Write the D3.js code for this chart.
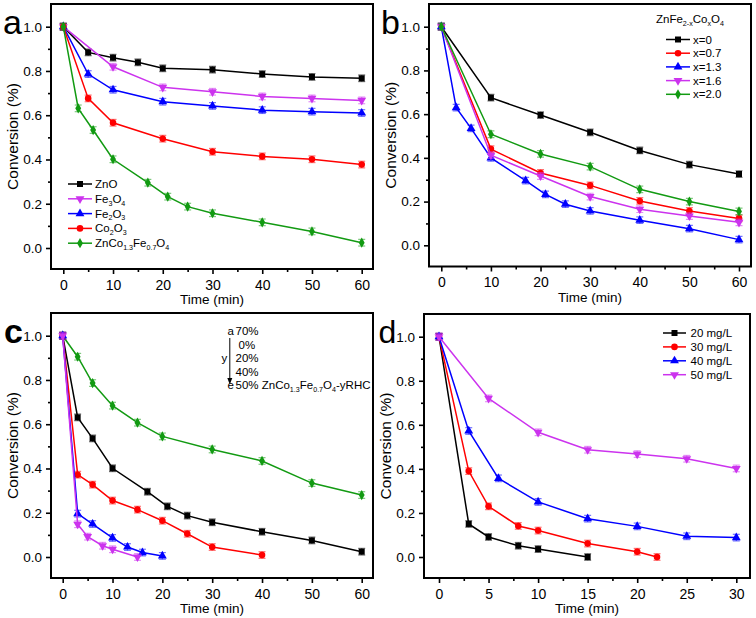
<!DOCTYPE html>
<html><head><meta charset="utf-8">
<script src="https://cdn.jsdelivr.net/npm/d3@7"></script>
<style>body{margin:0;background:#fff}svg{display:block}text{font-family:"Liberation Sans",Arial,sans-serif}</style>
</head><body><svg id="c" width="756" height="618"></svg>
<script>
// ---------- DATA ----------
const yTicks = [0.0, 0.2, 0.4, 0.6, 0.8, 1.0];
const yMinor = [0.1, 0.3, 0.5, 0.7, 0.9];
const xTicks60 = [0, 10, 20, 30, 40, 50, 60];
const xMinor60 = [5, 15, 25, 35, 45, 55];
const xTicks30 = [0, 5, 10, 15, 20, 25, 30];
const xMinor30 = [2.5, 7.5, 12.5, 17.5, 22.5, 27.5];
const errHalf = 0.015;

// panel a
const aZnO_t = [0, 5, 10, 15, 20, 30, 40, 50, 60];
const aZnO_v = [1.0, 0.884, 0.860, 0.839, 0.812, 0.806, 0.786, 0.773, 0.767];
const aFe3O4_t = [0, 10, 20, 30, 40, 50, 60];
const aFe3O4_v = [1.0, 0.819, 0.726, 0.706, 0.685, 0.676, 0.667];
const aFe2O3_t = [0, 5, 10, 20, 30, 40, 50, 60];
const aFe2O3_v = [1.0, 0.786, 0.715, 0.661, 0.642, 0.623, 0.616, 0.610];
const aCo2O3_t = [0, 5, 10, 20, 30, 40, 50, 60];
const aCo2O3_v = [1.0, 0.676, 0.566, 0.494, 0.435, 0.414, 0.401, 0.377];
const aZCF_t = [0, 3, 6, 10, 17, 21, 25, 30, 40, 50, 60];
const aZCF_v = [1.0, 0.631, 0.533, 0.401, 0.295, 0.232, 0.187, 0.157, 0.116, 0.075, 0.024];
const aLabels = ["ZnO", "Fe_{3}O_{4}", "Fe_{2}O_{3}", "Co_{2}O_{3}", "ZnCo_{1.3}Fe_{0.7}O_{4}"];

// panel b
const b0_t = [0, 10, 20, 30, 40, 50, 60];
const b0_v = [1.0, 0.675, 0.596, 0.517, 0.434, 0.369, 0.326];
const b07_t = [0, 10, 20, 30, 40, 50, 60];
const b07_v = [1.0, 0.440, 0.331, 0.274, 0.203, 0.157, 0.123];
const b13_t = [0, 3, 6, 10, 17, 21, 25, 30, 40, 50, 60];
const b13_v = [1.0, 0.630, 0.535, 0.400, 0.296, 0.233, 0.188, 0.157, 0.115, 0.076, 0.026];
const b16_t = [0, 10, 20, 30, 40, 50, 60];
const b16_v = [1.0, 0.412, 0.317, 0.223, 0.165, 0.134, 0.105];
const b20_t = [0, 10, 20, 30, 40, 50, 60];
const b20_v = [1.0, 0.508, 0.418, 0.360, 0.256, 0.200, 0.155];
const bLabels = ["x=0", "x=0.7", "x=1.3", "x=1.6", "x=2.0"];
const bTitle = "ZnFe_{2-x}Co_{x}O_{4}";

// panel c
const c70_t = [0, 3, 6, 10, 15, 20, 30, 40, 50, 60];
const c70_v = [1.0, 0.905, 0.786, 0.684, 0.607, 0.545, 0.486, 0.434, 0.334, 0.280];
const c0_t = [0, 3, 6, 10, 17, 21, 25, 30, 40, 50, 60];
const c0_v = [1.0, 0.631, 0.536, 0.401, 0.295, 0.229, 0.187, 0.157, 0.114, 0.075, 0.024];
const c20_t = [0, 3, 6, 10, 15, 20, 25, 30, 40];
const c20_v = [1.0, 0.372, 0.327, 0.255, 0.214, 0.164, 0.105, 0.045, 0.009];
const c40_t = [0, 3, 6, 10, 13, 16, 20];
const c40_v = [1.0, 0.196, 0.149, 0.086, 0.045, 0.020, 0.005];
const c50_t = [0, 3, 5, 8, 10, 15];
const c50_v = [1.0, 0.148, 0.092, 0.051, 0.035, 0.0];
const cLegend = [["a", "70%"], ["", "0%"], ["y", "20%"], ["", "40%"], ["e", "50% ZnCo_{1.3}Fe_{0.7}O_{4}-yRHC"]];

// panel d
const d20_t = [0, 3, 5, 8, 10, 15];
const d20_v = [1.0, 0.150, 0.091, 0.051, 0.036, 0.0];
const d30_t = [0, 3, 5, 8, 10, 15, 20, 22];
const d30_v = [1.0, 0.390, 0.230, 0.141, 0.120, 0.061, 0.024, 0.0];
const d40_t = [0, 3, 6, 10, 15, 20, 25, 30];
const d40_v = [1.0, 0.572, 0.357, 0.250, 0.174, 0.139, 0.094, 0.088];
const d50_t = [0, 5, 10, 15, 20, 25, 30];
const d50_v = [1.0, 0.720, 0.566, 0.487, 0.467, 0.446, 0.402];
const dLabels = ["20 mg/L", "30 mg/L", "40 mg/L", "50 mg/L"];

// ---------- STYLE ----------
const COL = {k: "#000000", r: "#ff0000", b: "#0000ff", m: "#cc33ee", g: "#129a12"};
const SYM = {sq: d3.symbolSquare, ci: d3.symbolCircle, up: d3.symbolTriangle, dn: d3.symbolTriangle, di: d3.symbolDiamond};
const LEG_FS = 11.5;

const svg = d3.select("#c");

function richText(sel, str, size) {
  const parts = [];
  const re = /_\{([^}]*)\}/g;
  let last = 0, m;
  while ((m = re.exec(str)) !== null) {
    if (m.index > last) parts.push({t: str.slice(last, m.index), sub: false});
    parts.push({t: m[1], sub: true});
    last = re.lastIndex;
  }
  if (last < str.length) parts.push({t: str.slice(last), sub: false});
  let prevSub = false;
  parts.forEach(p => {
    const ts = sel.append("tspan").text(p.t);
    if (p.sub) { ts.attr("font-size", size * 0.62); if (!prevSub) ts.attr("dy", size * 0.25); }
    else if (prevSub) ts.attr("dy", -size * 0.25);
    prevSub = p.sub;
  });
}

function drawMarker(g, kind, x, y, color) {
  const size = kind === "ci" ? 34 : kind === "sq" ? 36 : kind === "di" ? 30 : 34;
  g.append("path").attr("d", d3.symbol().type(SYM[kind]).size(size)())
    .attr("fill", color).attr("transform", `translate(${x},${y})` + (kind === "dn" ? " rotate(180)" : ""));
}

function panel(cfg) {
  const {fx0, fx1, fy0, fy1} = cfg.frame;
  const x = d3.scaleLinear().domain(cfg.xd).range(cfg.xr);
  const y = d3.scaleLinear().domain([0, 1]).range(cfg.yr);
  const g = svg.append("g");
  const clipId = "clip" + cfg.id;
  svg.append("clipPath").attr("id", clipId).append("rect")
    .attr("x", fx0).attr("y", fy0).attr("width", fx1 - fx0).attr("height", fy1 - fy0);

  const ax = g.append("g").attr("transform", `translate(0,${fy1})`)
    .call(d3.axisBottom(x).tickValues(cfg.xt).tickSize(5).tickPadding(6).tickFormat(d3.format("d")));
  const axm = g.append("g").attr("transform", `translate(0,${fy1})`)
    .call(d3.axisBottom(x).tickValues(cfg.xm).tickSize(3).tickFormat(""));
  const ay = g.append("g").attr("transform", `translate(${fx0},0)`)
    .call(d3.axisLeft(y).tickValues(yTicks).tickSize(5).tickPadding(4).tickFormat(d3.format(".1f")));
  const aym = g.append("g").attr("transform", `translate(${fx0},0)`)
    .call(d3.axisLeft(y).tickValues(yMinor).tickSize(3).tickFormat(""));
  [ax, axm, ay, aym].forEach(a => {
    a.select(".domain").remove();
    a.selectAll("line").attr("stroke", "#000").attr("stroke-width", 1.6);
    a.selectAll("text").attr("font-size", 14).attr("fill", "#000").attr("font-family", '"Liberation Sans",Arial,sans-serif');
  });
  ay.selectAll("text").attr("font-size", 13.5);

  const sg = g.append("g").attr("clip-path", `url(#${clipId})`);
  cfg.series.forEach(s => {
    const pts = s.t.map((t, i) => [t, s.v[i]]);
    sg.append("path").datum(pts)
      .attr("d", d3.line().x(d => x(d[0])).y(d => y(d[1])))
      .attr("fill", "none").attr("stroke", s.c).attr("stroke-width", 1.5);
    pts.forEach(d => {
      const px = x(d[0]);
      const e = sg.append("g").attr("stroke", s.c).attr("stroke-opacity", 0.55).attr("stroke-width", 1.2);
      e.append("line").attr("x1", px).attr("x2", px).attr("y1", y(d[1] - errHalf)).attr("y2", y(d[1] + errHalf));
      e.append("line").attr("x1", px - 3.5).attr("x2", px + 3.5).attr("y1", y(d[1] - errHalf)).attr("y2", y(d[1] - errHalf));
      e.append("line").attr("x1", px - 3.5).attr("x2", px + 3.5).attr("y1", y(d[1] + errHalf)).attr("y2", y(d[1] + errHalf));
    });
    pts.forEach(d => drawMarker(sg, s.sym, x(d[0]), y(d[1]), s.c));
  });

  g.append("rect").attr("x", fx0).attr("y", fy0).attr("width", fx1 - fx0).attr("height", fy1 - fy0)
    .attr("fill", "none").attr("stroke", "#000").attr("stroke-width", 2);

  g.append("text").attr("x", (fx0 + fx1) / 2).attr("y", fy1 + 35).attr("text-anchor", "middle")
    .attr("font-size", 13.5).text("Time (min)");
  g.append("text").attr("transform", `translate(${fx0 - 33},${(fy0 + fy1) / 2}) rotate(-90)`)
    .attr("text-anchor", "middle").attr("font-size", 15.5).text("Conversion (%)");
  g.append("text").attr("x", cfg.letter[0]).attr("y", cfg.letter[1]).attr("font-size", cfg.letterSize || 34)
    .attr("font-weight", cfg.letterBold ? "bold" : "normal").text(cfg.id);

  if (cfg.legend) {
    const L = cfg.legend;
    if (L.title) {
      const t = g.append("text").attr("x", L.titleX).attr("y", L.titleY).attr("font-size", LEG_FS);
      richText(t, L.title, LEG_FS);
    }
    cfg.series.forEach((s, i) => {
      const yy = L.y0 + i * L.dy;
      g.append("line").attr("x1", L.x0).attr("x2", L.x1).attr("y1", yy).attr("y2", yy)
        .attr("stroke", s.c).attr("stroke-width", 1.5);
      drawMarker(g, s.sym, (L.x0 + L.x1) / 2, yy, s.c);
      const t = g.append("text").attr("x", L.tx).attr("y", yy + 4).attr("font-size", LEG_FS);
      richText(t, L.labels[i], LEG_FS);
    });
  }
  return {g, x, y};
}

panel({
  id: "a", frame: {fx0: 51, fx1: 373, fy0: 4, fy1: 269},
  xd: [0, 60], xr: [63.3, 361.7], yr: [248, 26.7], xt: xTicks60, xm: xMinor60,
  letter: [3, 34],
  series: [
    {t: aZnO_t, v: aZnO_v, c: COL.k, sym: "sq"},
    {t: aFe3O4_t, v: aFe3O4_v, c: COL.m, sym: "dn"},
    {t: aFe2O3_t, v: aFe2O3_v, c: COL.b, sym: "up"},
    {t: aCo2O3_t, v: aCo2O3_v, c: COL.r, sym: "ci"},
    {t: aZCF_t, v: aZCF_v, c: COL.g, sym: "di"}
  ],
  legend: {x0: 68, x1: 92, tx: 95, y0: 184, dy: 14.8, labels: aLabels}
});

panel({
  id: "b", frame: {fx0: 429, fx1: 751, fy0: 4, fy1: 266.5},
  xd: [0, 60], xr: [441.3, 739], yr: [245.3, 26.7], xt: xTicks60, xm: xMinor60,
  letter: [381, 34],
  series: [
    {t: b0_t, v: b0_v, c: COL.k, sym: "sq"},
    {t: b07_t, v: b07_v, c: COL.r, sym: "ci"},
    {t: b13_t, v: b13_v, c: COL.b, sym: "up"},
    {t: b16_t, v: b16_v, c: COL.m, sym: "dn"},
    {t: b20_t, v: b20_v, c: COL.g, sym: "di"}
  ],
  legend: {title: bTitle, titleX: 656, titleY: 23, x0: 666, x1: 690, tx: 693, y0: 39.5, dy: 13.7, labels: bLabels}
});

const pc = panel({
  id: "c", frame: {fx0: 51, fx1: 373, fy0: 313, fy1: 578},
  xd: [0, 60], xr: [62.7, 361.7], yr: [557, 335.7], xt: xTicks60, xm: xMinor60,
  letter: [4, 343], letterBold: true,
  series: [
    {t: c70_t, v: c70_v, c: COL.g, sym: "di"},
    {t: c0_t, v: c0_v, c: COL.k, sym: "sq"},
    {t: c20_t, v: c20_v, c: COL.r, sym: "ci"},
    {t: c40_t, v: c40_v, c: COL.b, sym: "up"},
    {t: c50_t, v: c50_v, c: COL.m, sym: "dn"}
  ]
});
cLegend.forEach((r, i) => {
  const yy = 335 + i * 13.6;
  if (r[0]) pc.g.append("text").attr("x", r[0] === "y" ? 221.5 : 227.5).attr("y", yy).attr("font-size", LEG_FS).text(r[0]);
  const t = pc.g.append("text").attr("x", r[1] === "0%" ? 238.5 : 235.5).attr("y", yy).attr("font-size", LEG_FS);
  richText(t, r[1], LEG_FS);
});
pc.g.append("line").attr("x1", 229.8).attr("x2", 229.8).attr("y1", 338).attr("y2", 379)
  .attr("stroke", "#000").attr("stroke-width", 1);
pc.g.append("path").attr("d", "M227.3,378 L232.3,378 L229.8,384.5 Z").attr("fill", "#000");

panel({
  id: "d", frame: {fx0: 424, fx1: 750, fy0: 314, fy1: 578},
  xd: [0, 30], xr: [439, 736.3], yr: [557, 336.7], xt: xTicks30, xm: xMinor30,
  letter: [378.5, 343], letterSize: 32,
  series: [
    {t: d20_t, v: d20_v, c: COL.k, sym: "sq"},
    {t: d30_t, v: d30_v, c: COL.r, sym: "ci"},
    {t: d40_t, v: d40_v, c: COL.b, sym: "up"},
    {t: d50_t, v: d50_v, c: COL.m, sym: "dn"}
  ],
  legend: {x0: 663, x1: 686, tx: 690.5, y0: 333, dy: 13.9, labels: dLabels}
});
</script></body></html>
